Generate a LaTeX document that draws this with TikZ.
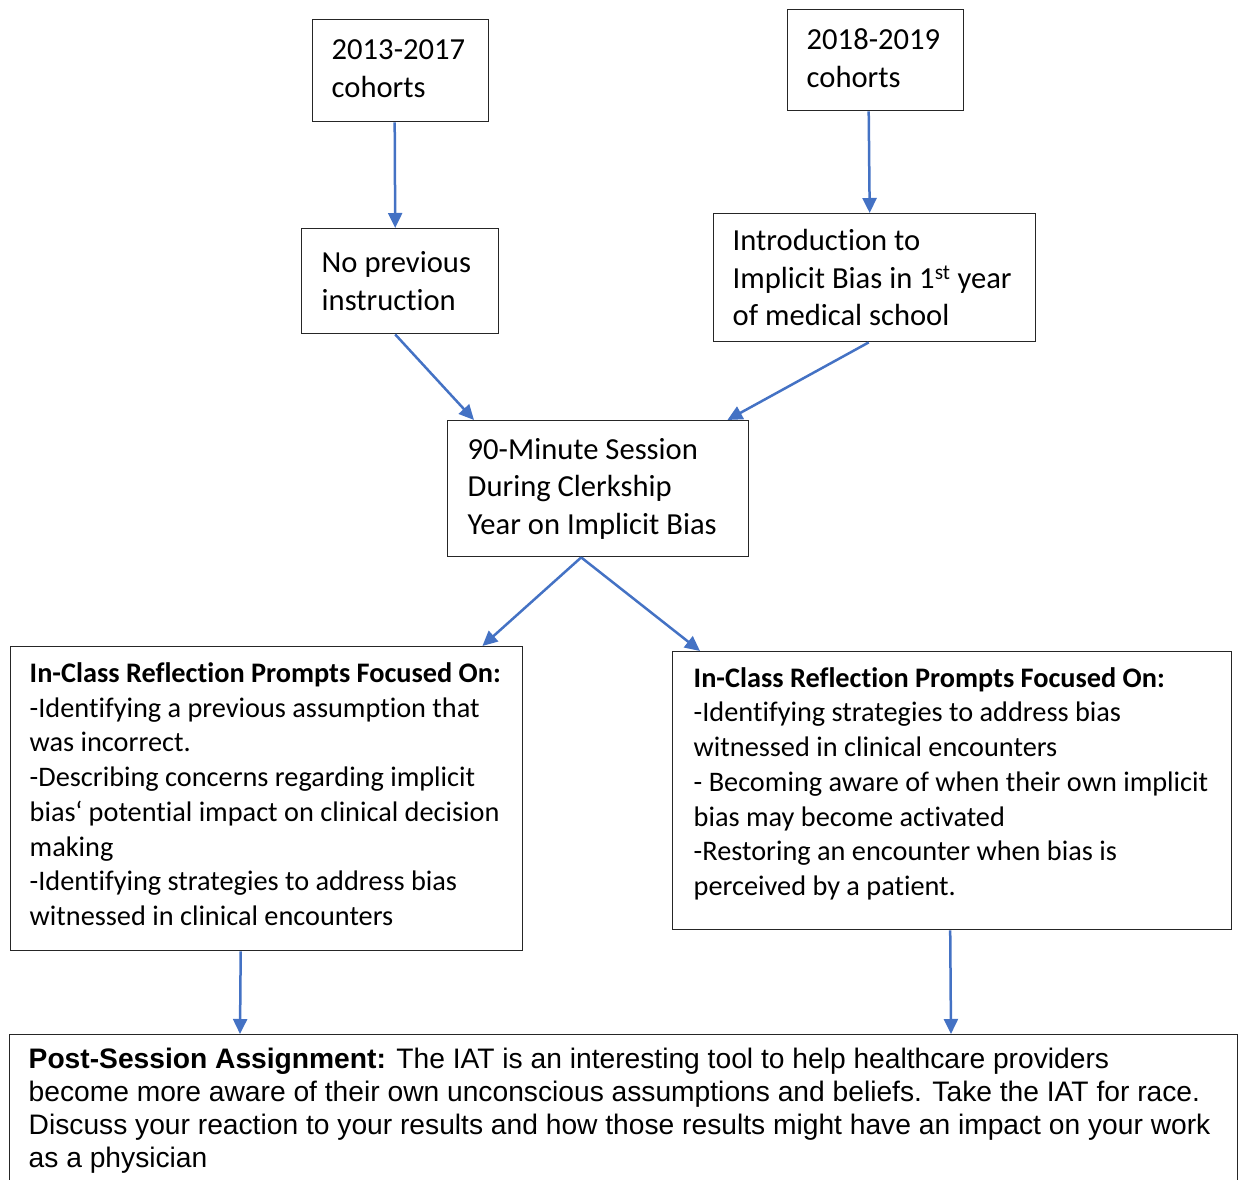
\documentclass[tikz,border=0pt]{standalone}
\usepackage{fontspec}
\setmainfont{Carlito}[Ligatures=NoCommon]
\newfontfamily\arialfont{Liberation Sans}
\usetikzlibrary{arrows.meta}
\definecolor{flowblue}{HTML}{4472C4}
\tikzset{
    box/.style={draw=black!85, line width=1.4pt, anchor=north west, align=flush left,
        inner xsep=0pt, inner ysep=0pt, font=\fontsize{30.6}{37.5}\selectfont},
    prompt/.style={box, font=\fontsize{28.3}{34.7}\selectfont},
    flow/.style={draw=flowblue, line width=2.5pt, -{Triangle[length=15pt,width=14pt]}},
}

\begin{document}
\begin{tikzpicture}[x=1pt, y=-1pt]
    \useasboundingbox (0,0) rectangle (1240,1180);
    % cohorts
    \node[box, minimum width=176, minimum height=102, text width=138] (old) at (312,19)
        {2013-2017\\cohorts\par\kern4pt};
    \node[box, minimum width=176, minimum height=101, text width=138] (new) at (787,9)
        {2018-2019\\cohorts\par\kern4pt};
    % prior teaching
    \node[box, minimum width=197, minimum height=105, text width=157] (none) at (301,228)
        {No previous\\instruction};
    \node[box, minimum width=322, minimum height=128, text width=284] (intro) at (713,213)
        {Introduction to\\Implicit Bias in 1\textsuperscript{st} year\\of medical school};
    % session
    \node[box, minimum width=301, minimum height=136, text width=261] (session) at (447,420)
        {90-Minute Session\\During Clerkship\\Year on Implicit Bias};
    % reflection prompts
    \node[prompt, minimum width=512, minimum height=304, text width=474] (left) at (10,646)
        {\textbf{In-Class Reflection Prompts Focused On:}\\
         -Identifying a previous assumption that\\
         was incorrect.\\
         -Describing concerns regarding implicit\\
         bias‘ potential impact on clinical decision\\
         making\\
         -Identifying strategies to address bias\\
         witnessed in clinical encounters\par\kern9pt};
    \node[prompt, minimum width=559, minimum height=278, text width=517] (right) at (672,651)
        {\textbf{In-Class Reflection Prompts Focused On:}\\
         -Identifying strategies to address bias\\
         witnessed in clinical encounters\\
         - Becoming aware of when their own implicit\\
         bias may become activated\\
         -Restoring an encounter when bias is\\
         perceived by a patient.\par\kern14pt};
    % assignment
    \node[box, minimum width=1228, minimum height=152, text width=1190,
        font=\arialfont\fontsize{28.2}{33}\selectfont] (task) at (9,1034)
        {\textbf{Post-Session Assignment:} The IAT is an interesting tool to help healthcare providers\\
         become more aware of their own unconscious assumptions and beliefs. Take the IAT for race.\\
         Discuss your reaction to your results and how those results might have an impact on your work\\
         as a physician};

    \draw[flow] ([xshift=-6]old.south) -- ([xshift=-5]none.north);
    \draw[flow] ([xshift=-7]new.south) -- ([xshift=-5]intro.north);
    \draw[flow] ([xshift=-5]none.south) -- ([xshift=27]session.north west);
    \draw[flow] ([xshift=-6]intro.south) -- ([xshift=-22]session.north east);
    \draw[flow] ([xshift=-17]session.south) -- ([xshift=-41]left.north east);
    \draw[flow] ([xshift=-17]session.south) -- ([xshift=28]right.north west);
    \draw[flow] ([xshift=-26]left.south) -- ([xshift=231]task.north west);
    \draw[flow] ([xshift=-2]right.south) -- ([xshift=942]task.north west);
\end{tikzpicture}
\end{document}
